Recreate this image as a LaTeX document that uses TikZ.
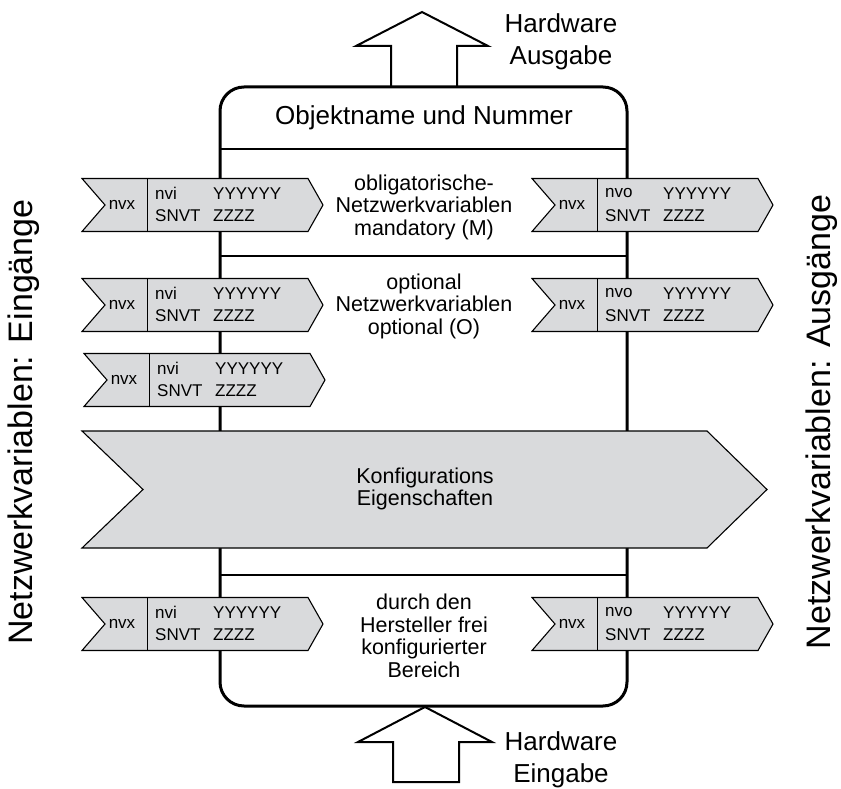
\documentclass[tikz,border=0pt]{standalone}
\usepackage{fontspec}
\setmainfont{Liberation Sans}
\begin{document}
\begin{tikzpicture}[x=1pt,y=-1pt,
  boxline/.style={line width=3pt},
  sepline/.style={line width=1.3pt},
  arrowline/.style={line width=2pt, line join=miter},
  blockfill/.style={fill=blockgray, draw=black, line width=1.1pt, line join=miter},
  bigtxt/.style={font=\fontsize{26}{32}\selectfont, align=center},
  midtxt/.style={font=\fontsize{21.5}{22.5}\selectfont, align=center},
  smalltxt/.style={font=\fontsize{17}{19}\selectfont, inner sep=0pt},
  sidetxt/.style={font=\fontsize{34}{40}\selectfont, rotate=90}]
\definecolor{blockgray}{RGB}{217,218,220}
\useasboundingbox (0,0) rectangle (841,789);

% object frame and its sections
\draw[boxline, rounded corners=24pt] (220,87) rectangle (627,706);
\node[bigtxt] (title) at (424,118) {Objektname und Nummer};
\draw[sepline] (220,149) -- (627,149);
\draw[sepline] (220,256) -- (627,256);
\draw[sepline] (220,575) -- (627,575);

% hardware output / input arrows
\draw[arrowline] (391,87) -- (391,46) -- (356,46) -- (422,12) -- (488,46) -- (457,46) -- (457,87);
\node[bigtxt] (hwout) at (561,42) {Hardware\\Ausgabe};
\draw[arrowline] (393,782) -- (393,742) -- (358,742) -- (425,707) -- (492,742) -- (459,742) -- (459,782) -- cycle;
\node[bigtxt] (hwin) at (561,760) {Hardware\\Eingabe};

% network variable block: #1 left x, #2 centre y, #3 name, #4 nvi/nvo
\newcommand\nvblock[4]{%
  \begin{scope}[shift={(#1,#2)}]
    \draw[blockfill] (0,-26.5) -- (23,0) -- (0,26.5) -- (226,26.5) -- (241,0) -- (226,-26.5) -- cycle;
    \draw[line width=0.8pt] (65,-26.5) -- (65,26.5);
    \node[smalltxt] (#3x) at (40,0) {nvx};
    \node[smalltxt, anchor=west] (#3a) at (73,-11.5) {#4};
    \node[smalltxt, anchor=west] (#3b) at (131,-11.5) {YYYYYY};
    \node[smalltxt, anchor=west] (#3c) at (73,10.5) {SNVT};
    \node[smalltxt, anchor=west] (#3d) at (131,10.5) {ZZZZ};
  \end{scope}}

% mandatory section
\nvblock{82}{205}{inA}{nvi}
\nvblock{532}{205}{outA}{nvo}
\node[midtxt] (mand) at (424,207) {obligatorische-\\Netzwerkvariablen\\mandatory (M)};

% optional section
\nvblock{82}{305}{inB}{nvi}
\nvblock{532}{305}{outB}{nvo}
\nvblock{84}{380}{inC}{nvi}
\node[midtxt] (opt) at (424,306) {optional\\Netzwerkvariablen\\optional (O)};

% configuration properties
\draw[blockfill] (82,431) -- (143,489.5) -- (82,548) -- (707,548) -- (767,489.5) -- (707,431) -- cycle;
\node[midtxt] (konf) at (425,489) {Konfigurations\\Eigenschaften};

% manufacturer section
\nvblock{82}{624}{inD}{nvi}
\nvblock{532}{624}{outD}{nvo}
\node[midtxt] (herst) at (424,636) {durch den\\Hersteller frei\\konfigurierter\\Bereich};

% side captions
\node[sidetxt] (inputs) at (24,422) {Netzwerkvariablen: Eingänge};
\node[sidetxt] (outputs) at (822,422) {Netzwerkvariablen: Ausgänge};
\end{tikzpicture}
\end{document}
